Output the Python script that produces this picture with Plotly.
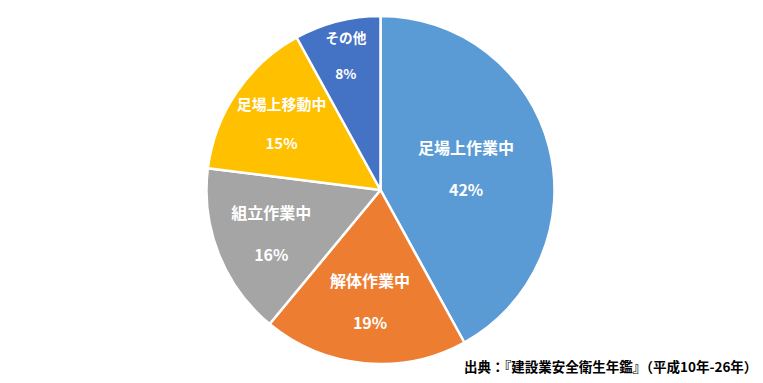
import plotly.graph_objects as go

labels = ["足場上作業中", "解体作業中", "組立作業中", "足場上移動中", "その他"]
values = [42, 19, 16, 15, 8]
colors = ["#5B9BD5", "#ED7D31", "#A5A5A5", "#FFC000", "#4472C4"]
source_text = "出典：『建設業安全衛生年鑑』（平成10年-26年）"

W, H = 763, 383
cx, cy, r = 380.5, 190, 174

fig = go.Figure(go.Pie(
    labels=labels,
    values=values,
    sort=False,
    direction="clockwise",
    rotation=0,
    marker=dict(colors=colors, line=dict(color="white", width=2.5)),
    texttemplate="<b>%{label}</b><br><br><b>%{percent:.0%}</b>",
    textposition="inside",
    insidetextorientation="horizontal",
    textfont=dict(family="Noto Sans CJK JP", size=16, color="white"),
    hoverinfo="label+percent",
    domain=dict(x=[(cx - r) / W, (cx + r) / W], y=[(H - cy - r) / H, (H - cy + r) / H]),
    showlegend=False,
))

fig.add_annotation(
    text="<b>" + source_text + "</b>",
    xref="paper", yref="paper", x=0.995, y=0.012,
    xanchor="right", yanchor="bottom", showarrow=False,
    font=dict(family="Noto Sans CJK JP", size=13.5, color="black"),
)

fig.update_layout(
    width=W, height=H,
    margin=dict(l=0, r=0, t=0, b=0),
    paper_bgcolor="white",
    plot_bgcolor="white",
)

fig.write_html("out.html", config={"displayModeBar": False})
with open("out.html", encoding="utf-8") as f:
    html = f.read()
html = html.replace("<body>", '<body style="margin:0;padding:0;">', 1)
with open("out.html", "w", encoding="utf-8") as f:
    f.write(html)
